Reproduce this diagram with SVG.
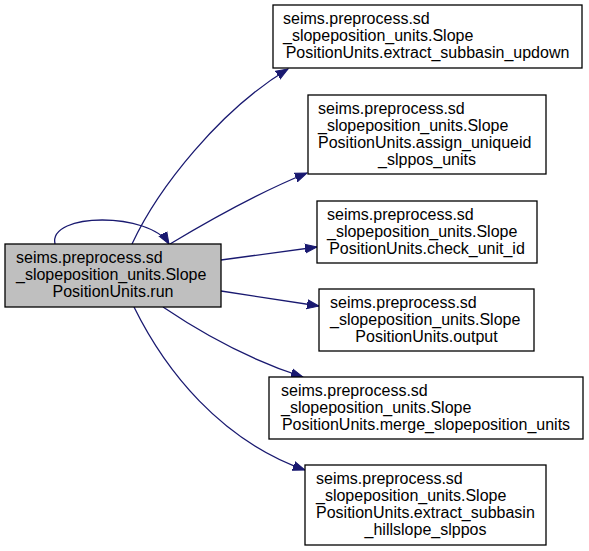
<svg xmlns="http://www.w3.org/2000/svg" width="589" height="551" viewBox="0 0 589 551">
<style>
.node rect{fill:#ffffff;stroke:#000000;stroke-width:1.3}
.node.main rect{fill:#bfbfbf}
.node text{font-family:"Liberation Sans",Arial,sans-serif;font-size:16px;fill:#000000}
.edge{fill:none;stroke:#191970;stroke-width:1.3;marker-end:url(#arr)}
</style>
<defs>
<marker id="arr" markerUnits="userSpaceOnUse" markerWidth="14" markerHeight="12" refX="12" refY="5" orient="auto" viewBox="0 0 14 10">
<path d="M0,0.5 L12,5 L0,9.5 Z" fill="#191970" stroke="#191970" stroke-width="1"/>
</marker>
</defs>
<rect width="589" height="551" fill="#ffffff"/>
<g id="connectors">
<path class="edge" d="M55,244 C48,212 150,212 169,244"/>
<path class="edge" d="M132,244 C158,188 220,110 288,69"/>
<path class="edge" d="M170,244 C210,220 260,192 307,173"/>
<path class="edge" d="M221,260 L317,247"/>
<path class="edge" d="M221,291 L319,306"/>
<path class="edge" d="M163,307 C200,332 250,360 303,377"/>
<path class="edge" d="M134,307 C165,370 220,440 305,470"/>
</g>
<g id="node-run" class="node main">
<rect x="5" y="244" width="216" height="63"/>
<text x="16" y="263">seims.preprocess.sd</text>
<text x="16" y="280">_slopeposition_units.Slope</text>
<text x="113" y="297" text-anchor="middle">PositionUnits.run</text>
</g>
<g id="node-extract-updown" class="node">
<rect x="273" y="5" width="309" height="63"/>
<text x="283" y="24">seims.preprocess.sd</text>
<text x="283" y="41">_slopeposition_units.Slope</text>
<text x="427.5" y="58" text-anchor="middle">PositionUnits.extract_subbasin_updown</text>
</g>
<g id="node-assign" class="node">
<rect x="308" y="95" width="238" height="79"/>
<text x="318" y="114">seims.preprocess.sd</text>
<text x="318" y="131">_slopeposition_units.Slope</text>
<text x="318" y="148">PositionUnits.assign_uniqueid</text>
<text x="427" y="165" text-anchor="middle">_slppos_units</text>
</g>
<g id="node-check" class="node">
<rect x="317" y="201" width="220" height="62"/>
<text x="327" y="220">seims.preprocess.sd</text>
<text x="327" y="237">_slopeposition_units.Slope</text>
<text x="427" y="254" text-anchor="middle">PositionUnits.check_unit_id</text>
</g>
<g id="node-output" class="node">
<rect x="319" y="289" width="215" height="62"/>
<text x="330" y="308">seims.preprocess.sd</text>
<text x="330" y="325">_slopeposition_units.Slope</text>
<text x="426.5" y="342" text-anchor="middle">PositionUnits.output</text>
</g>
<g id="node-merge" class="node">
<rect x="269" y="377" width="314" height="62"/>
<text x="281" y="396">seims.preprocess.sd</text>
<text x="281" y="413">_slopeposition_units.Slope</text>
<text x="426" y="430" text-anchor="middle">PositionUnits.merge_slopeposition_units</text>
</g>
<g id="node-hillslope" class="node">
<rect x="305" y="465" width="241" height="80"/>
<text x="316" y="484">seims.preprocess.sd</text>
<text x="316" y="501">_slopeposition_units.Slope</text>
<text x="316" y="518">PositionUnits.extract_subbasin</text>
<text x="425.5" y="535" text-anchor="middle">_hillslope_slppos</text>
</g>
</svg>
